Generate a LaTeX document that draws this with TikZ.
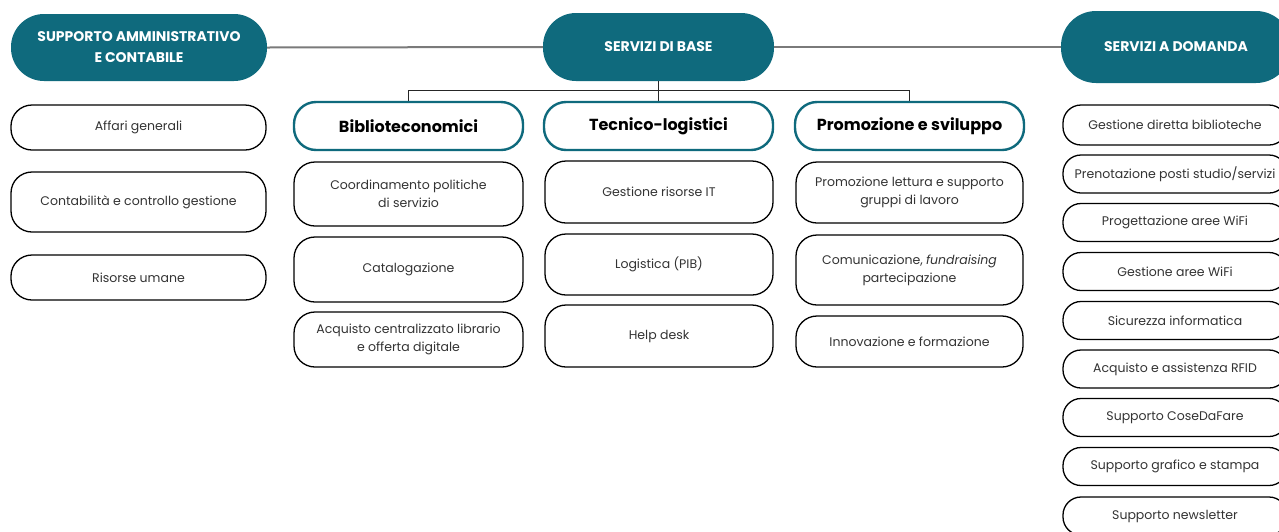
\documentclass[tikz,border=0pt]{standalone}
\usepackage{fontspec}
\setmainfont{Poppins}
\definecolor{tealhead}{HTML}{0F6A7D}
\definecolor{linegray}{HTML}{7A7A7A}
\definecolor{txt}{HTML}{333333}
\begin{document}
\begin{tikzpicture}[x=1pt,y=-1pt,
 head/.style={fill=tealhead, text=white, font=\fontsize{14}{21}\selectfont\bfseries, rounded corners=33pt, align=center, inner sep=0pt},
 cat/.style={draw=tealhead, line width=2.4pt, fill=white, rounded corners=22pt, font=\fontsize{16}{18}\selectfont\bfseries, minimum width=229pt, minimum height=48pt, inner sep=0pt},
 item/.style={draw=black, line width=1.3pt, fill=white, rounded corners=21pt, font=\fontsize{12.5}{18}\selectfont, text=txt, align=center, inner sep=0pt},
 rbox/.style={item, minimum width=224pt, minimum height=38pt, rounded corners=18pt},
 conn/.style={draw=linegray, line width=2pt},
 tree/.style={draw=black!85, line width=1pt}
]
\clip (0,0) rectangle (1279,531);
\fill[white] (0,0) rectangle (1279,531);

% headers
\node[head, minimum width=256pt, minimum height=67pt] (sa) at (139,47.5) {SUPPORTO AMMINISTRATIVO\\E CONTABILE};
\node[head, minimum width=231pt, minimum height=68pt] (sb) at (658.5,47) {SERVIZI DI BASE};
\node[head, minimum width=230pt, minimum height=72pt, rounded corners=35pt] (sd) at (1176,47) {SERVIZI A DOMANDA};

\draw[conn] (sa.east) -- (sb.west);
\draw[conn] (sb.east) -- (sd.west);

% categories
\node[cat] (bib) at (408.5,126) {Biblioteconomici};
\node[cat] (tec) at (658.5,126) {Tecnico-logistici};
\node[cat] (pro) at (909.5,126) {Promozione e sviluppo};

\coordinate (j) at (658.5,90);
\draw[tree] (sb.south) -- (tec.north);
\draw[tree] (bib.north) -- (bib.north|-j) -- (pro.north|-j) -- (pro.north);

% left column
\node[item, minimum width=255pt, minimum height=45pt] (a1) at (138.5,127.5) {Affari generali};
\node[item, minimum width=255pt, minimum height=60pt] (a2) at (138.5,202) {Contabilità e controllo gestione};
\node[item, minimum width=255pt, minimum height=45pt] (a3) at (138.5,277.5) {Risorse umane};

% biblioteconomici
\node[item, minimum width=229pt, minimum height=64pt] (b1) at (408.5,194) {Coordinamento politiche\\di servizio};
\node[item, minimum width=229pt, minimum height=65pt] (b2) at (408.5,269.5) {Catalogazione};
\node[item, minimum width=229pt, minimum height=55pt] (b3) at (408.5,339.5) {Acquisto centralizzato librario\\e offerta digitale};

% tecnico
\node[item, minimum width=228pt, minimum height=62pt] (t1) at (659,192) {Gestione risorse IT};
\node[item, minimum width=228pt, minimum height=61pt] (t2) at (659,264.5) {Logistica (PIB)};
\node[item, minimum width=228pt, minimum height=62pt] (t3) at (659,336) {Help desk};

% promozione
\node[item, minimum width=227pt, minimum height=61pt] (p1) at (909.5,192.5) {Promozione lettura e supporto\\gruppi di lavoro};
\node[item, minimum width=227pt, minimum height=70pt] (p2) at (909.5,270) {Comunicazione, \textit{fundraising}\\partecipazione};
\node[item, minimum width=227pt, minimum height=51pt] (p3) at (909.5,341.5) {Innovazione e formazione};

% servizi a domanda
\node[rbox, minimum height=40pt] (d1) at (1175,125) {Gestione diretta biblioteche};
\node[rbox] (d2) at (1175,174) {Prenotazione posti studio/servizi};
\node[rbox] (d3) at (1175,222.5) {Progettazione aree WiFi};
\node[rbox] (d4) at (1175,271.5) {Gestione aree WiFi};
\node[rbox] (d5) at (1175,320.5) {Sicurezza informatica};
\node[rbox] (d6) at (1175,369) {Acquisto e assistenza RFID};
\node[rbox] (d7) at (1175,417.5) {Supporto CoseDaFare};
\node[rbox] (d8) at (1175,466.5) {Supporto grafico e stampa};
\node[rbox] (d9) at (1175,516) {Supporto newsletter};
\end{tikzpicture}
\end{document}
